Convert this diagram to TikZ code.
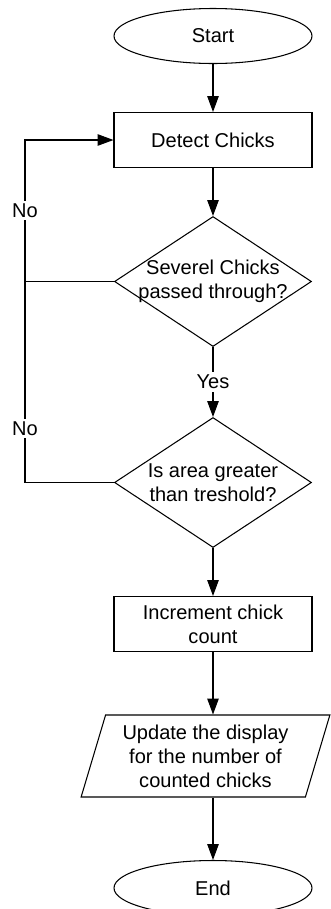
\documentclass[tikz,border=0pt]{standalone}
\usepackage{fontspec}
\setmainfont{Liberation Sans}
\usetikzlibrary{shapes.geometric,arrows.meta}

\begin{document}
\begin{tikzpicture}[
        font=\fontsize{11.4}{13.6}\selectfont,
        line width=0.6pt,
        term/.style={draw, ellipse, minimum width=3.96cm, minimum height=1.1cm, inner sep=0pt},
        proc/.style={draw, rectangle, minimum width=3.96cm, minimum height=1.1cm, align=center},
        dec/.style={draw, diamond, aspect=1.5, minimum width=3.94cm, minimum height=2.6cm, inner sep=-3pt, align=center},
        io/.style={draw, trapezium, trapezium left angle=72, trapezium right angle=108, trapezium stretches=true, minimum width=4.98cm, minimum height=1.64cm, inner sep=0pt, align=center},
        arr/.style={-{Triangle[width=6.5pt,length=9pt]}},
        lbl/.style={fill=white, inner sep=1.5pt}
    ]
        \useasboundingbox (0,0) rectangle (6.6,-18.18);
        \node[term](start) at (4.26,-0.72) {Start};
        \node[proc](det) at (4.26,-2.8) {Detect Chicks};
        \node[dec](pass) at (4.26,-5.63) {Severel Chicks\\passed through?};
        \node[dec](area) at (4.26,-9.65) {Is area greater\\than treshold?};
        \node[proc](inc) at (4.26,-12.48) {Increment chick\\count};
        \node[io](upd) at (4.11,-15.12) {Update the display\\for the number of\\counted chicks};
        \node[term](end) at (4.26,-17.76) {End};
        \coordinate(l1) at (0.5,-5.63);
        \coordinate(l2) at (0.5,-2.8);
        \coordinate(l3) at (0.5,-9.65);
        \draw[arr](start)--(det);
        \draw[arr](det)--(pass);
        \draw[arr](pass)--node[lbl]{Yes}(area);
        \draw[arr](area)--(inc);
        \draw[arr](inc.south)--(inc.south |- upd.north);
        \draw[arr](end.north |- upd.south)--(end);
        \draw[arr](pass.west)--(l1)--node[lbl]{No}(l2)--(det.west);
        \draw(area.west)--(l3)--node[lbl, pos=0.27]{No}(l1);
\end{tikzpicture}
\end{document}
